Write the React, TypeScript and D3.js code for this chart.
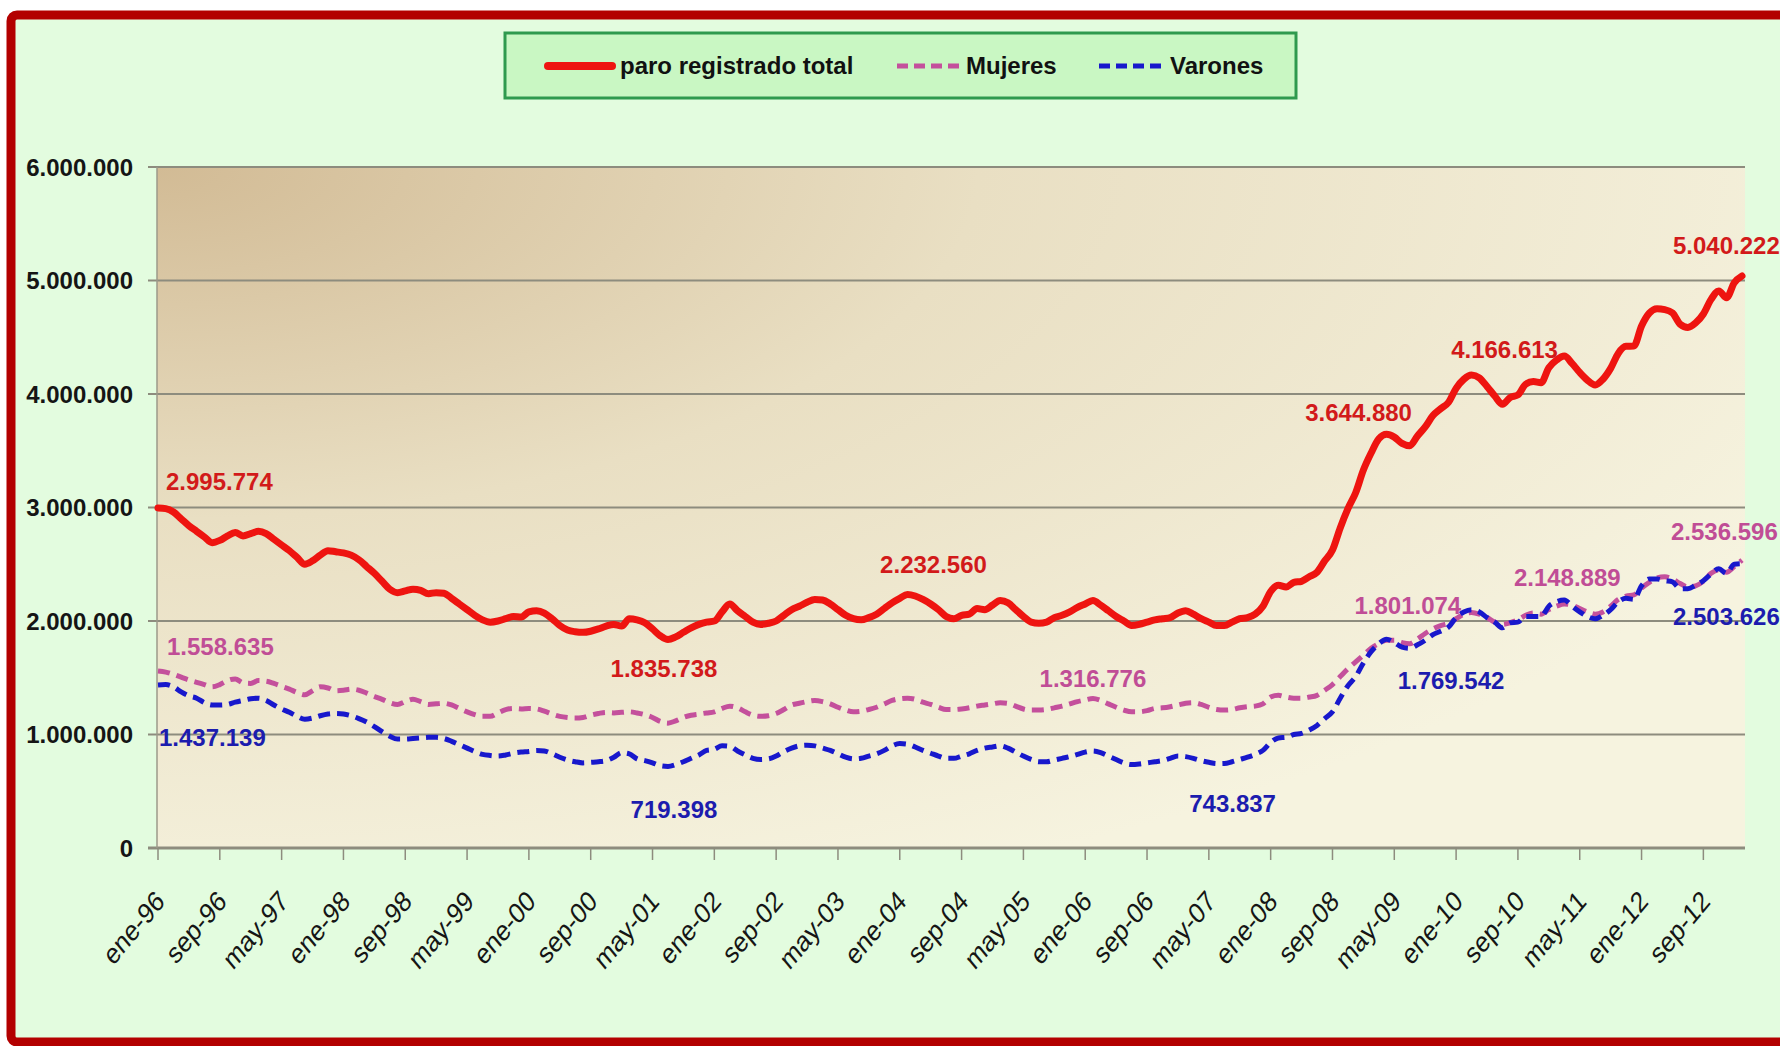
import React from 'react';
import * as d3 from 'd3';

// paro registrado mensual, miles de personas (ene-96 ... feb-13)
const total = [
  2996, 2990, 2960, 2900, 2840, 2790, 2740, 2690, 2710, 2750, 2780, 2750,
  2770, 2790, 2770, 2720, 2670, 2620, 2560, 2500, 2530, 2580, 2620, 2610,
  2600, 2580, 2540, 2480, 2420, 2350, 2280, 2250, 2265, 2280, 2270, 2240,
  2250, 2245, 2200, 2150, 2100, 2050, 2010, 1990, 2000, 2020, 2040, 2035,
  2080, 2090, 2070, 2020, 1960, 1920, 1905, 1900, 1910, 1930, 1955, 1970,
  1955, 2020, 2010, 1985, 1930, 1870, 1836, 1860, 1900, 1940, 1970, 1990,
  2000, 2080, 2150, 2090, 2040, 1990, 1970, 1980, 2000, 2050, 2100, 2130,
  2165, 2190, 2185, 2150, 2100, 2050, 2020, 2010, 2030, 2060, 2110, 2160,
  2200, 2233, 2220, 2190, 2150, 2100, 2040, 2020, 2050, 2060, 2110, 2100,
  2140, 2180, 2160, 2100, 2040, 1990, 1980, 1990, 2030, 2050, 2080, 2120,
  2150, 2180, 2140, 2090, 2040, 2000, 1960, 1970, 1990, 2010, 2020, 2030,
  2070, 2090, 2060, 2020, 1990, 1960, 1960, 1990, 2020, 2030, 2060, 2130,
  2260, 2315, 2300, 2340, 2350, 2390, 2430, 2530, 2625, 2820, 2990, 3130,
  3330, 3480, 3605, 3645, 3620, 3565, 3545, 3630, 3710, 3810, 3870, 3925,
  4050, 4130, 4167, 4142, 4066, 3982, 3909, 3970, 3992, 4086, 4110, 4100,
  4231, 4299, 4334, 4270, 4190, 4122, 4080, 4130, 4226, 4360, 4420, 4422,
  4599, 4712, 4751, 4744, 4714, 4615, 4587, 4626, 4705, 4834, 4908, 4848,
  4981, 5040,
];

const mujeres = [
  1559, 1550, 1530, 1505, 1480, 1460, 1440, 1420, 1440, 1475, 1490, 1455,
  1450, 1475, 1470, 1450, 1425, 1400, 1370, 1350, 1385, 1420, 1410, 1385,
  1390, 1400, 1390, 1365, 1335, 1310, 1280, 1265, 1290, 1310, 1290, 1265,
  1270, 1275, 1260, 1230, 1200, 1175, 1160, 1160, 1190, 1220, 1230, 1225,
  1230, 1225, 1205, 1180, 1160, 1150, 1145, 1150, 1170, 1185, 1195, 1190,
  1195, 1200, 1190, 1175, 1150, 1115, 1100, 1120, 1150, 1170, 1180, 1190,
  1200, 1230, 1250, 1235, 1200, 1170, 1160, 1165, 1185, 1220, 1260, 1275,
  1290, 1300, 1290, 1270, 1240, 1215, 1200, 1205, 1220, 1240, 1270, 1300,
  1315, 1320, 1310, 1285, 1265, 1240, 1220, 1220, 1225, 1235, 1250, 1260,
  1270, 1280, 1275, 1250, 1225, 1215, 1215, 1220, 1235, 1250, 1270, 1290,
  1305, 1317, 1300, 1270, 1240, 1215, 1200, 1200, 1210, 1230, 1235, 1245,
  1260, 1275, 1280, 1265, 1240, 1220, 1215, 1220, 1235, 1245, 1250, 1270,
  1330, 1345, 1330, 1320, 1320, 1330, 1345, 1390, 1440, 1510, 1580, 1640,
  1700, 1760, 1801, 1830, 1830, 1810, 1800, 1840, 1890, 1930, 1960, 1980,
  2020, 2060, 2075, 2060, 2030, 1990, 1970, 1985, 2010, 2050, 2070, 2060,
  2100, 2130, 2149, 2140, 2110, 2080, 2060, 2080, 2130, 2190, 2220, 2230,
  2290, 2340, 2380, 2390, 2370, 2330, 2300, 2310, 2350, 2420, 2450, 2430,
  2480, 2537,
];

const varones = [
  1437, 1440, 1420, 1375, 1340, 1320, 1280, 1260, 1260, 1265, 1285, 1300,
  1315, 1320, 1300, 1260, 1225, 1195, 1160, 1135, 1145, 1165, 1180, 1185,
  1180, 1165, 1140, 1110, 1070, 1025, 985, 960, 960, 965, 970, 975,
  975, 965, 940, 910, 880, 850, 825, 815, 810, 820, 835, 845,
  850, 860, 855, 830, 800, 775, 760, 750, 755, 760, 770, 800,
  840, 830, 785, 770, 750, 725, 719, 735, 760, 790, 820, 860,
  870, 900, 895, 855, 820, 790, 780, 785, 810, 850, 880, 900,
  905, 900, 880, 860, 830, 800, 785, 790, 810, 830, 860, 900,
  920, 915, 890, 860, 835, 810, 790, 790, 810, 830, 860, 880,
  890, 900, 880, 845, 810, 780, 760, 760, 775, 790, 805, 825,
  845, 855, 840, 810, 780, 750, 735, 740, 750, 760, 770, 790,
  810, 805, 790, 770, 755, 744, 745, 760, 780, 800, 825, 860,
  930, 970, 975, 1000, 1010, 1040, 1080, 1140, 1200, 1320, 1430, 1510,
  1630, 1730, 1800, 1840, 1810, 1770, 1760, 1790, 1830, 1880, 1910, 1945,
  2030, 2080, 2100, 2080, 2030, 1990, 1940, 1985, 1990, 2040, 2040, 2040,
  2130, 2170, 2185, 2130, 2080, 2040, 2020, 2050, 2100, 2170, 2200, 2190,
  2310, 2370, 2370, 2355, 2345, 2285, 2285, 2315, 2355, 2415, 2460, 2420,
  2500, 2504,
];

const meses = ['ene', 'feb', 'mar', 'abr', 'may', 'jun', 'jul', 'ago', 'sep', 'oct', 'nov', 'dic'];
const categorias = total.map((_, i) => `${meses[i % 12]}-${String((96 + Math.floor(i / 12)) % 100).padStart(2, '0')}`);

const xTickLabels = [
  'ene-96', 'sep-96', 'may-97', 'ene-98', 'sep-98', 'may-99', 'ene-00', 'sep-00', 'may-01',
  'ene-02', 'sep-02', 'may-03', 'ene-04', 'sep-04', 'may-05', 'ene-06', 'sep-06', 'may-07',
  'ene-08', 'sep-08', 'may-09', 'ene-10', 'sep-10', 'may-11', 'ene-12', 'sep-12',
];
const yTicks = [0, 1000000, 2000000, 3000000, 4000000, 5000000, 6000000];
const yTickLabels = ['0', '1.000.000', '2.000.000', '3.000.000', '4.000.000', '5.000.000', '6.000.000'];

// etiquetas de datos: serie, mes, texto
const etiquetas = [
  { serie: 'total', mes: 'ene-96', texto: '2.995.774' },
  { serie: 'total', mes: 'jul-01', texto: '1.835.738' },
  { serie: 'total', mes: 'feb-04', texto: '2.232.560' },
  { serie: 'total', mes: 'abr-09', texto: '3.644.880' },
  { serie: 'total', mes: 'mar-10', texto: '4.166.613' },
  { serie: 'total', mes: 'feb-13', texto: '5.040.222' },
  { serie: 'mujeres', mes: 'ene-96', texto: '1.558.635' },
  { serie: 'mujeres', mes: 'feb-06', texto: '1.316.776' },
  { serie: 'mujeres', mes: 'mar-09', texto: '1.801.074' },
  { serie: 'mujeres', mes: 'mar-11', texto: '2.148.889' },
  { serie: 'mujeres', mes: 'feb-13', texto: '2.536.596' },
  { serie: 'varones', mes: 'ene-96', texto: '1.437.139' },
  { serie: 'varones', mes: 'jul-01', texto: '719.398' },
  { serie: 'varones', mes: 'jun-07', texto: '743.837' },
  { serie: 'varones', mes: 'jun-09', texto: '1.769.542' },
  { serie: 'varones', mes: 'feb-13', texto: '2.503.626' },
];
// desplazamiento de cada etiqueta respecto a su punto (mismo orden)
const desplazamientos: [number, number, string][] = [
  [8, -18, 'start'], [-4, 37, 'middle'], [26, -22, 'middle'], [-28, -13, 'middle'], [33, -17, 'middle'], [-69, -22, 'start'],
  [9, -16, 'start'], [0, -12, 'middle'], [29, -30, 'middle'], [3, -18, 'middle'], [-71, -20, 'start'],
  [1, 61, 'start'], [6, 52, 'middle'], [16, 48, 'middle'], [49, 42, 'middle'], [-69, 61, 'start'],
];

const series: Record<string, { values: number[]; color: string; label: string; width: number; dash?: string }> = {
  mujeres: { values: mujeres, color: '#c4509c', label: '#c04d96', width: 5, dash: '12 7' },
  varones: { values: varones, color: '#1818cc', label: '#1c1cae', width: 5, dash: '12 7' },
  total: { values: total, color: '#ee1410', label: '#d21a1a', width: 7 },
};

const W = 1780;
const H = 1046;
const plot = { left: 157, right: 1745, top: 167, bottom: 848 };

export default function App() {
  const x = d3.scaleLinear().domain([0, total.length - 1]).range([158, 1742]);
  const y = d3.scaleLinear().domain([0, 6000000]).range([plot.bottom, plot.top]);
  const line = d3.line<number>()
    .x((_, i) => x(i))
    .y(d => y(d * 1000))
    .curve(d3.curveMonotoneX);

  const font = '"Liberation Sans", Arial, sans-serif';

  return (
    <div style={{ position: 'absolute', left: 0, top: 0 }}>
      <svg width={W} height={H} style={{ display: 'block', fontFamily: font }}>
        <defs>
          <radialGradient id="fondo" cx="0" cy="0" r="1.15" fx="0" fy="0">
            <stop offset="0" stopColor="#d2bb95" />
            <stop offset="0.45" stopColor="#e9dfc3" />
            <stop offset="1" stopColor="#f6f3df" />
          </radialGradient>
        </defs>
        <rect x={0} y={0} width={W} height={H} fill="#ffffff" />
        <rect x={11} y={15} width={W + 40} height={1027} rx={6} fill="#e3fcdf" stroke="#b30000" strokeWidth={9} />

        {/* leyenda */}
        <rect x={505} y={33} width={791} height={65} fill="#c9f7c3" stroke="#2f9a4e" strokeWidth={3} />
        <line x1={548} x2={612} y1={66} y2={66} stroke={series.total.color} strokeWidth={8} strokeLinecap="round" />
        <text x={620} y={74} fontSize={24} fontWeight="bold" fill="#111">paro registrado total</text>
        <line x1={897} x2={963} y1={66} y2={66} stroke={series.mujeres.color} strokeWidth={5} strokeDasharray="11 6" />
        <text x={966} y={74} fontSize={24} fontWeight="bold" fill="#111">Mujeres</text>
        <line x1={1099} x2={1166} y1={66} y2={66} stroke={series.varones.color} strokeWidth={5} strokeDasharray="11 6" />
        <text x={1170} y={74} fontSize={24} fontWeight="bold" fill="#111">Varones</text>

        {/* área de trazado */}
        <rect x={plot.left} y={plot.top} width={plot.right - plot.left} height={plot.bottom - plot.top} fill="url(#fondo)" />
        {yTicks.map((t, k) => (
          <g key={t}>
            <line x1={148} x2={plot.right} y1={y(t)} y2={y(t)} stroke="#8d8c7e" strokeWidth={k === 0 ? 3 : 2.2} />
            <text x={133} y={y(t) + 8.5} textAnchor="end" fontSize={24} fontWeight="bold" fill="#151515">{yTickLabels[k]}</text>
          </g>
        ))}
        <line x1={plot.left} x2={plot.left} y1={plot.top} y2={plot.bottom} stroke="#9c9a8a" strokeWidth={1.5} />

        {xTickLabels.map(lab => {
          const i = categorias.indexOf(lab);
          return (
            <g key={lab}>
              <line x1={x(i)} x2={x(i)} y1={plot.bottom} y2={plot.bottom + 12} stroke="#8d8c7e" strokeWidth={1.5} />
              <text transform={`translate(${x(i) + 8},${903}) scale(1,1.2) rotate(-45)`} textAnchor="end" fontSize={24} fill="#151515">{lab}</text>
            </g>
          );
        })}

        {/* series */}
        {['mujeres', 'varones', 'total'].map(k => (
          <path key={k} d={line(series[k].values) || ''} fill="none" stroke={series[k].color}
            strokeWidth={series[k].width} strokeDasharray={series[k].dash}
            strokeLinejoin="round" strokeLinecap={series[k].dash ? 'butt' : 'round'} />
        ))}

        {/* etiquetas de datos */}
        {etiquetas.map((e, k) => {
          const i = categorias.indexOf(e.mes);
          const s = series[e.serie];
          const [dx, dy, anchor] = desplazamientos[k];
          return (
            <text key={k} x={x(i) + dx} y={y(s.values[i] * 1000) + dy} textAnchor={anchor}
              fontSize={24} fontWeight="bold" fill={s.label}>{e.texto}</text>
          );
        })}
      </svg>
    </div>
  );
}
